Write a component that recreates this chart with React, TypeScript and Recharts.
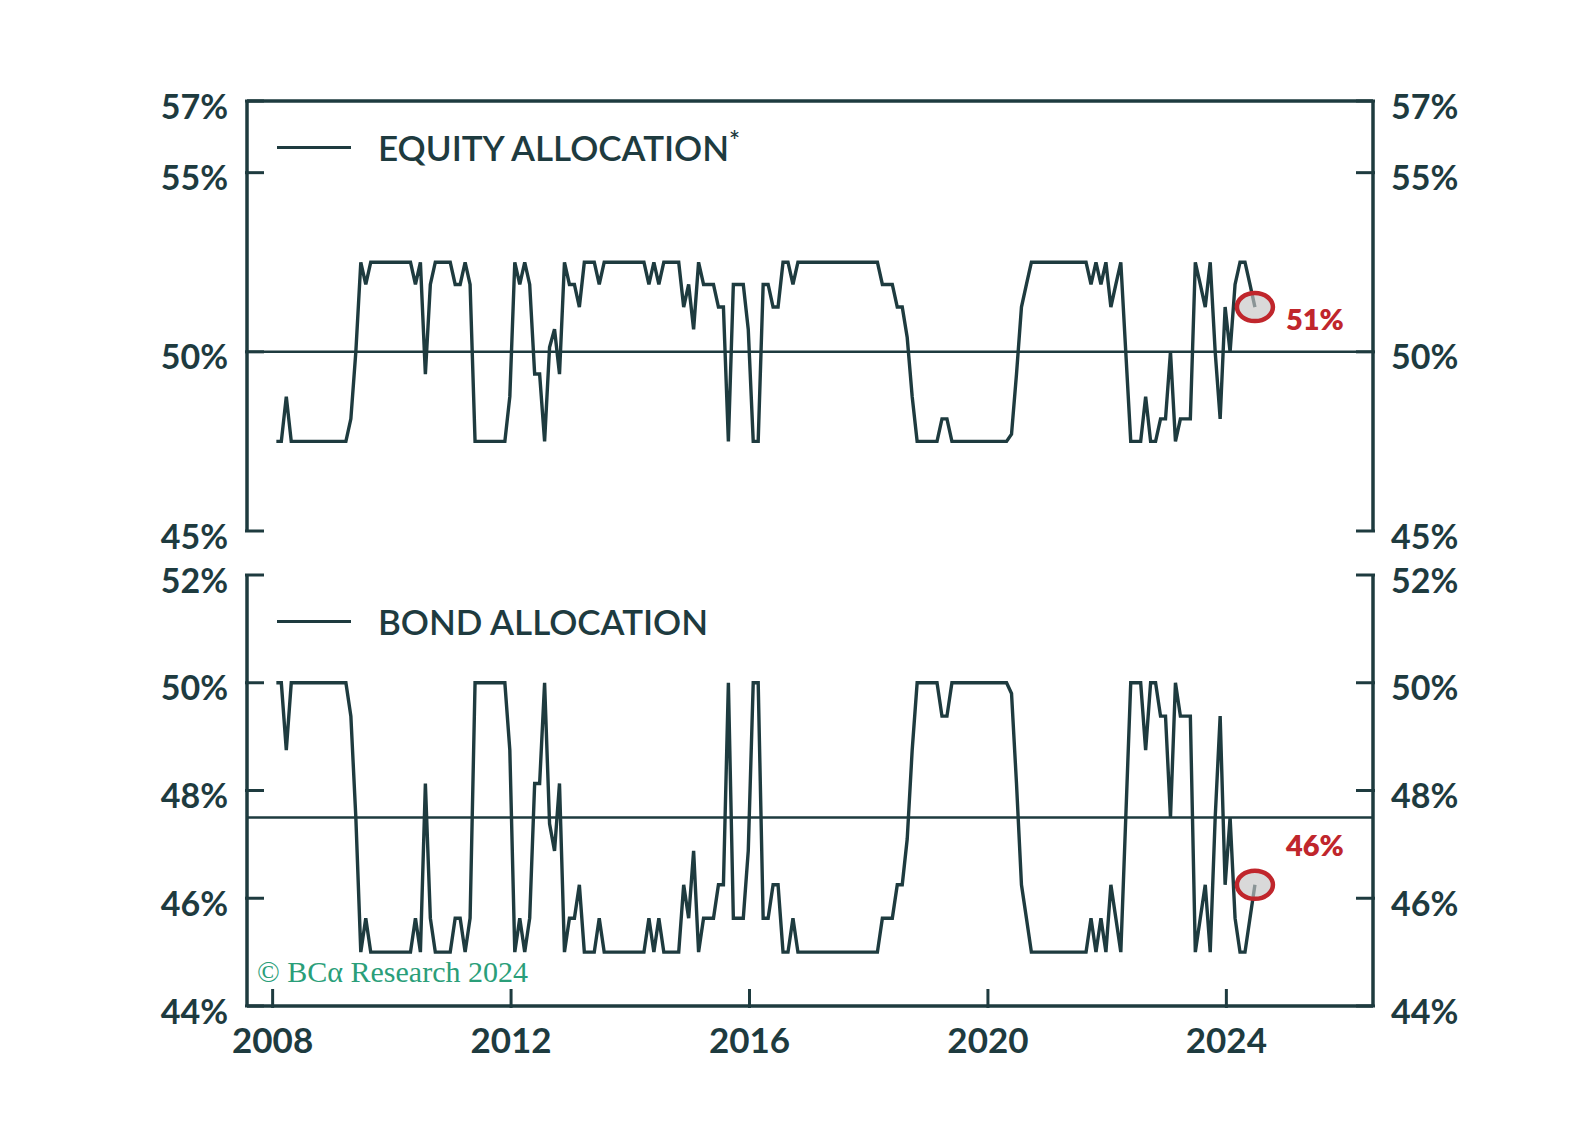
import React from "react";
import { LineChart, Line, XAxis, YAxis, ReferenceLine, ReferenceDot, Legend } from "recharts";

// monthly readings, Jan 2008 .. Jun 2024
const START_YEAR = 2008;

const EQUITY = [
  47.5, 47.5, 48.75, 47.5, 47.5, 47.5, 47.5, 47.5, 47.5, 47.5, 47.5, 47.5,
  47.5, 47.5, 47.5, 48.13, 50, 52.5, 51.88, 52.5, 52.5, 52.5, 52.5, 52.5,
  52.5, 52.5, 52.5, 52.5, 51.88, 52.5, 49.38, 51.88, 52.5, 52.5, 52.5, 52.5,
  51.88, 51.88, 52.5, 51.88, 47.5, 47.5, 47.5, 47.5, 47.5, 47.5, 47.5, 48.75,
  52.5, 51.88, 52.5, 51.88, 49.38, 49.38, 47.5, 50.13, 50.63, 49.38, 52.5, 51.88,
  51.88, 51.25, 52.5, 52.5, 52.5, 51.88, 52.5, 52.5, 52.5, 52.5, 52.5, 52.5,
  52.5, 52.5, 52.5, 51.88, 52.5, 51.88, 52.5, 52.5, 52.5, 52.5, 51.25, 51.88,
  50.63, 52.5, 51.88, 51.88, 51.88, 51.25, 51.25, 47.5, 51.88, 51.88, 51.88, 50.63,
  47.5, 47.5, 51.88, 51.88, 51.25, 51.25, 52.5, 52.5, 51.88, 52.5, 52.5, 52.5,
  52.5, 52.5, 52.5, 52.5, 52.5, 52.5, 52.5, 52.5, 52.5, 52.5, 52.5, 52.5,
  52.5, 52.5, 51.88, 51.88, 51.88, 51.25, 51.25, 50.4, 48.75, 47.5, 47.5, 47.5,
  47.5, 47.5, 48.13, 48.13, 47.5, 47.5, 47.5, 47.5, 47.5, 47.5, 47.5, 47.5,
  47.5, 47.5, 47.5, 47.5, 47.7, 49.38, 51.25, 51.88, 52.5, 52.5, 52.5, 52.5,
  52.5, 52.5, 52.5, 52.5, 52.5, 52.5, 52.5, 52.5, 51.88, 52.5, 51.88, 52.5,
  51.25, 51.88, 52.5, 50, 47.5, 47.5, 47.5, 48.75, 47.5, 47.5, 48.13, 48.13,
  50, 47.5, 48.13, 48.13, 48.13, 52.5, 51.88, 51.25, 52.5, 50, 48.13, 51.25,
  50, 51.88, 52.5, 52.5, 51.88, 51.25,
];

const BOND = [
  50, 50, 48.75, 50, 50, 50, 50, 50, 50, 50, 50, 50,
  50, 50, 50, 49.38, 47.5, 45, 45.63, 45, 45, 45, 45, 45,
  45, 45, 45, 45, 45.63, 45, 48.13, 45.63, 45, 45, 45, 45,
  45.63, 45.63, 45, 45.63, 50, 50, 50, 50, 50, 50, 50, 48.75,
  45, 45.63, 45, 45.63, 48.13, 48.13, 50, 47.38, 46.88, 48.13, 45, 45.63,
  45.63, 46.25, 45, 45, 45, 45.63, 45, 45, 45, 45, 45, 45,
  45, 45, 45, 45.63, 45, 45.63, 45, 45, 45, 45, 46.25, 45.63,
  46.88, 45, 45.63, 45.63, 45.63, 46.25, 46.25, 50, 45.63, 45.63, 45.63, 46.88,
  50, 50, 45.63, 45.63, 46.25, 46.25, 45, 45, 45.63, 45, 45, 45,
  45, 45, 45, 45, 45, 45, 45, 45, 45, 45, 45, 45,
  45, 45, 45.63, 45.63, 45.63, 46.25, 46.25, 47.1, 48.75, 50, 50, 50,
  50, 50, 49.38, 49.38, 50, 50, 50, 50, 50, 50, 50, 50,
  50, 50, 50, 50, 49.8, 48.13, 46.25, 45.63, 45, 45, 45, 45,
  45, 45, 45, 45, 45, 45, 45, 45, 45.63, 45, 45.63, 45,
  46.25, 45.63, 45, 47.5, 50, 50, 50, 48.75, 50, 50, 49.38, 49.38,
  47.5, 50, 49.38, 49.38, 49.38, 45, 45.63, 46.25, 45, 47.5, 49.38, 46.25,
  47.5, 45.63, 45, 45, 45.63, 46.25,
];

const YEAR_TICKS = [2008, 2012, 2016, 2020, 2024];
const EQUITY_TICKS = [45, 50, 55, 57];
const BOND_TICKS = [44, 46, 48, 50, 52];
const EQUITY_NEUTRAL = 50;
const BOND_NEUTRAL = 47.5;

const rows = EQUITY.map((v, i) => ({
  t: START_YEAR + (i + 0.75) / 12,
  equity: v,
  bond: BOND[i],
}));
const last = rows[rows.length - 1];

const INK = "#1e3b3f";
const RED = "#c0262c";
const GREEN = "#2a9e79";
const FONT = "Lato, 'Noto Sans', sans-serif";
const X_DOMAIN = [2007.57, 2026.46];
const TICK = 19;
const AXIS = { stroke: INK, strokeWidth: 3.5 };

const LeftTick = ({ x, y, payload }: any) => (
  <g>
    <line x1={x} x2={x + TICK} y1={y} y2={y} stroke={INK} strokeWidth={3} />
    <text x={x - 17} y={y + 4} textAnchor="end" dominantBaseline="central"
      fill={INK} fontSize={34} fontWeight={700} fontFamily={FONT}>{payload.value}%</text>
  </g>
);

const RightTick = ({ x, y, payload }: any) => (
  <g>
    <line x1={x - TICK} x2={x} y1={y} y2={y} stroke={INK} strokeWidth={3} />
    <text x={x + 16} y={y + 4} textAnchor="start" dominantBaseline="central"
      fill={INK} fontSize={34} fontWeight={700} fontFamily={FONT}>{payload.value}%</text>
  </g>
);

const YearTick = ({ x, y, payload }: any) => (
  <g>
    <line x1={x} x2={x} y1={y} y2={y - TICK} stroke={INK} strokeWidth={3} />
    <text x={x} y={y + 31} textAnchor="middle" dominantBaseline="central"
      fill={INK} fontSize={35} fontWeight={700} fontFamily={FONT}>{payload.value}</text>
  </g>
);

const legendContent = (note: string) => ({ payload }: any) => (
  <div style={{ display: "flex", alignItems: "center" }}>
    {(payload || []).map((p: any) => (
      <div key={p.value} style={{ display: "flex", alignItems: "center" }}>
        <span style={{ display: "inline-block", width: 74, height: 3, background: p.color, marginRight: 27 }} />
        <span style={{ fontFamily: FONT, fontSize: 35, fontWeight: 600, color: INK, whiteSpace: "nowrap" }}>
          {p.value}
          {note && <sup style={{ fontSize: 26, verticalAlign: "top", position: "relative", top: -2 }}>{note}</sup>}
        </span>
      </div>
    ))}
  </div>
);

const marker = (dy: number, value: number) => (props: any) => (
  <g>
    <ellipse cx={props.cx} cy={props.cy} rx={18} ry={14} fill="#c4c4c4" fillOpacity={0.65}
      stroke={RED} strokeWidth={4.5} />
    <text x={props.cx + 31} y={props.cy + dy} fill={RED} fontSize={29} fontWeight={800}
      fontFamily={FONT}>{Math.round(value)}%</text>
  </g>
);

function EquityPanel() {
  return (
    <LineChart width={1596} height={560} data={rows} margin={{ top: 100, right: 143, bottom: 29, left: 167 }}>
      <XAxis dataKey="t" type="number" domain={X_DOMAIN} allowDataOverflow orientation="top" height={1}
        tick={false} tickLine={false} axisLine={AXIS} />
      <YAxis yAxisId="l" domain={[45, 57]} allowDataOverflow ticks={EQUITY_TICKS} interval={0} width={80}
        tickSize={0} tickLine={false} tick={LeftTick} axisLine={AXIS} />
      <YAxis yAxisId="r" orientation="right" domain={[45, 57]} allowDataOverflow ticks={EQUITY_TICKS}
        interval={0} width={80} tickSize={0} tickLine={false} tick={RightTick} axisLine={AXIS} />
      <ReferenceLine yAxisId="l" y={EQUITY_NEUTRAL} stroke={INK} strokeWidth={2.5} />
      <Line yAxisId="l" dataKey="equity" name="EQUITY ALLOCATION" type="linear" stroke={INK}
        strokeWidth={3.4} dot={false} isAnimationActive={false} />
      <ReferenceDot yAxisId="l" x={last.t} y={last.equity} shape={marker(23, last.equity)} />
      <Legend layout="horizontal" verticalAlign="middle" align="center" content={legendContent("*")}
        wrapperStyle={{ left: 277, top: 126, width: "auto" }} />
    </LineChart>
  );
}

function BondPanel() {
  return (
    <LineChart width={1596} height={540} data={rows} margin={{ top: 30, right: 143, bottom: 19, left: 167 }}>
      <XAxis dataKey="t" type="number" domain={X_DOMAIN} allowDataOverflow ticks={YEAR_TICKS} interval={0}
        height={60} tickSize={0} tickLine={false} tick={YearTick} axisLine={AXIS} />
      <YAxis yAxisId="l" domain={[44, 52]} allowDataOverflow ticks={BOND_TICKS} interval={0} width={80}
        tickSize={0} tickLine={false} tick={LeftTick} axisLine={AXIS} />
      <YAxis yAxisId="r" orientation="right" domain={[44, 52]} allowDataOverflow ticks={BOND_TICKS}
        interval={0} width={80} tickSize={0} tickLine={false} tick={RightTick} axisLine={AXIS} />
      <ReferenceLine yAxisId="l" y={BOND_NEUTRAL} stroke={INK} strokeWidth={2.5} />
      <Line yAxisId="l" dataKey="bond" name="BOND ALLOCATION" type="linear" stroke={INK}
        strokeWidth={3.4} dot={false} isAnimationActive={false} />
      <ReferenceDot yAxisId="l" x={last.t} y={last.bond} shape={marker(-29, last.bond)} />
      <Legend layout="horizontal" verticalAlign="middle" align="center" content={legendContent("")}
        wrapperStyle={{ left: 277, top: 55, width: "auto" }} />
    </LineChart>
  );
}

export default function App() {
  return (
    <div style={{ position: "absolute", left: 0, top: 0, width: 1596, height: 1144, background: "#fff", overflow: "hidden" }}>
      <div style={{ position: "absolute", left: 0, top: 0 }}>
        <EquityPanel />
      </div>
      <div style={{ position: "absolute", left: 0, top: 545 }}>
        <BondPanel />
      </div>
      <div style={{ position: "absolute", left: 257, top: 957, fontFamily: "'Liberation Serif', 'DejaVu Serif', serif",
        fontSize: 30, lineHeight: 1, color: GREEN, whiteSpace: "nowrap" }}>
        © BCα Research 2024
      </div>
    </div>
  );
}
